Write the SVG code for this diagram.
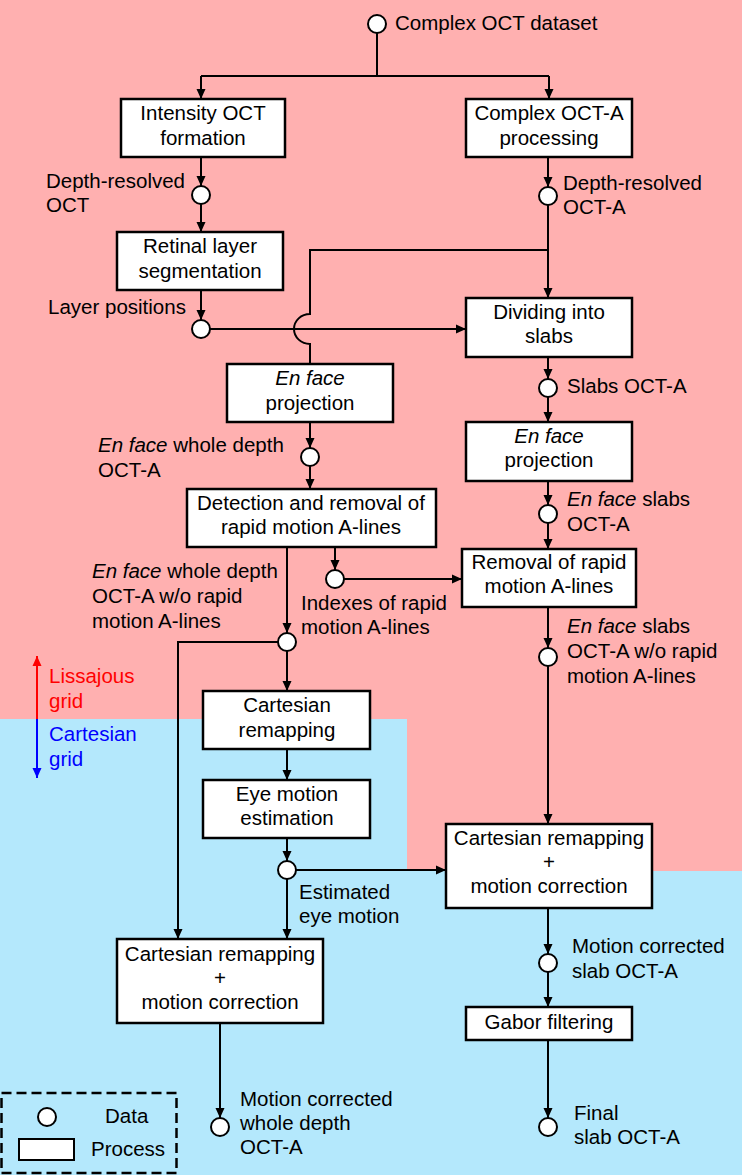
<svg xmlns="http://www.w3.org/2000/svg" width="742" height="1175" viewBox="0 0 742 1175">
<defs>
<marker id="ah" markerUnits="userSpaceOnUse" markerWidth="11" markerHeight="10" refX="10" refY="5" orient="auto">
<path d="M0,0.5 L10,5 L0,9.5 z" fill="#000"/>
</marker>
<marker id="ahr" markerUnits="userSpaceOnUse" markerWidth="11" markerHeight="10" refX="10" refY="5" orient="auto">
<path d="M0,0.5 L10,5 L0,9.5 z" fill="#ff0000"/>
</marker>
<marker id="ahb" markerUnits="userSpaceOnUse" markerWidth="11" markerHeight="10" refX="10" refY="5" orient="auto">
<path d="M0,0.5 L10,5 L0,9.5 z" fill="#0000ff"/>
</marker>
</defs>
<style>
text{font-family:"Liberation Sans",Arial,sans-serif;font-size:20.5px;fill:#000}
.c{text-anchor:middle}
.i{font-style:italic}
.box{fill:#fff;stroke:#000;stroke-width:2.5}
.dat{fill:#fff;stroke:#000;stroke-width:2}
.ln{fill:none;stroke:#000;stroke-width:2}
.arr{fill:none;stroke:#000;stroke-width:2;marker-end:url(#ah)}
</style>
<rect x="0" y="0" width="742" height="1175" fill="#ffb0b0"/>
<path d="M0,719 H407 V871 H742 V1175 H0 Z" fill="#b4e8fc"/>

<g id="connectors">
<path class="ln" d="M377,33 V76 M201,76 H549"/>
<path class="arr" d="M201,76 V99"/>
<path class="arr" d="M549,76 V99"/>
<path class="arr" d="M201,157 V186"/>
<path class="arr" d="M201,204 V232"/>
<path class="arr" d="M201,290 V320"/>
<path class="arr" d="M210,329 H466"/>
<path class="arr" d="M548,157 V187"/>
<path class="arr" d="M548,205 V298"/>
<path class="ln" d="M548,250 H310 V314 A16,15 0 0 0 310,344 V364"/>
<path class="arr" d="M548,357 V379"/>
<path class="arr" d="M548,397 V422"/>
<path class="arr" d="M548,481 V505"/>
<path class="arr" d="M548,523 V549"/>
<path class="arr" d="M548,607 V648"/>
<path class="arr" d="M548,666 V824"/>
<path class="arr" d="M548,908 V954"/>
<path class="arr" d="M548,972 V1007"/>
<path class="arr" d="M548,1040 V1118"/>
<path class="arr" d="M310,422 V448"/>
<path class="arr" d="M310,466 V489"/>
<path class="arr" d="M287,547 V633"/>
<path class="arr" d="M335,547 V570"/>
<path class="arr" d="M344,579 H462"/>
<path class="arr" d="M287,651 V691"/>
<path class="arr" d="M278,642 H178 V939"/>
<path class="arr" d="M287,749 V780"/>
<path class="arr" d="M287,838 V861"/>
<path class="arr" d="M296,870 H446"/>
<path class="arr" d="M287,879 V939"/>
<path class="arr" d="M220,1023 V1118"/>
</g>

<g id="n-dataset"><circle class="dat" cx="377" cy="24" r="9"/><text x="395" y="30">Complex OCT dataset</text></g>
<g id="n-intensity"><rect class="box" x="121" y="99" width="164" height="58"/><text class="c" x="203" y="120">Intensity OCT</text><text class="c" x="203" y="145">formation</text></g>
<g id="n-complex"><rect class="box" x="466" y="99" width="166" height="58"/><text class="c" x="549" y="120">Complex OCT-A</text><text class="c" x="549" y="145">processing</text></g>
<g id="n-depth-oct"><circle class="dat" cx="201" cy="195" r="9"/><text x="46" y="188">Depth-resolved</text><text x="46" y="212">OCT</text></g>
<g id="n-depth-octa"><circle class="dat" cx="548" cy="196" r="9"/><text x="563" y="190">Depth-resolved</text><text x="563" y="214">OCT-A</text></g>
<g id="n-retinal"><rect class="box" x="117" y="232" width="166" height="58"/><text class="c" x="200" y="253">Retinal layer</text><text class="c" x="200" y="278">segmentation</text></g>
<g id="n-layerpos"><circle class="dat" cx="201" cy="329" r="9"/><text x="48" y="314">Layer positions</text></g>
<g id="n-dividing"><rect class="box" x="466" y="298" width="166" height="59"/><text class="c" x="549" y="319">Dividing into</text><text class="c" x="549" y="343">slabs</text></g>
<g id="n-slabs"><circle class="dat" cx="548" cy="388" r="9"/><text x="567" y="393">Slabs OCT-A</text></g>
<g id="n-enface-r"><rect class="box" x="466" y="422" width="166" height="59"/><text class="c i" x="549" y="443">En face</text><text class="c" x="549" y="467">projection</text></g>
<g id="n-enface-slabs"><circle class="dat" cx="548" cy="514" r="9"/><text x="567" y="506"><tspan class="i">En face</tspan> slabs</text><text x="567" y="531">OCT-A</text></g>
<g id="n-removal"><rect class="box" x="462" y="549" width="174" height="58"/><text class="c" x="549" y="569">Removal of rapid</text><text class="c" x="549" y="593">motion A-lines</text></g>
<g id="n-enface-slabs-wo"><circle class="dat" cx="548" cy="657" r="9"/><text x="567" y="633"><tspan class="i">En face</tspan> slabs</text><text x="567" y="658">OCT-A w/o rapid</text><text x="567" y="683">motion A-lines</text></g>
<g id="n-cart-r"><rect class="box" x="446" y="824" width="206" height="84"/><text class="c" x="549" y="845">Cartesian remapping</text><text class="c" x="549" y="869">+</text><text class="c" x="549" y="893">motion correction</text></g>
<g id="n-mc-slab"><circle class="dat" cx="548" cy="963" r="9"/><text x="572" y="953">Motion corrected</text><text x="572" y="978">slab OCT-A</text></g>
<g id="n-gabor"><rect class="box" x="466" y="1007" width="166" height="33"/><text class="c" x="549" y="1029">Gabor filtering</text></g>
<g id="n-final"><circle class="dat" cx="548" cy="1127" r="9"/><text x="574" y="1120">Final</text><text x="574" y="1144">slab OCT-A</text></g>
<g id="n-enface-l"><rect class="box" x="227" y="364" width="166" height="58"/><text class="c i" x="310" y="385">En face</text><text class="c" x="310" y="410">projection</text></g>
<g id="n-enface-whole"><circle class="dat" cx="310" cy="457" r="9"/><text x="98" y="452"><tspan class="i">En face</tspan> whole depth</text><text x="98" y="477">OCT-A</text></g>
<g id="n-detection"><rect class="box" x="187" y="489" width="249" height="58"/><text class="c" x="311" y="510">Detection and removal of</text><text class="c" x="311" y="534">rapid motion A-lines</text></g>
<g id="n-indexes"><circle class="dat" cx="335" cy="579" r="9"/><text x="301" y="610">Indexes of rapid</text><text x="301" y="634">motion A-lines</text></g>
<g id="n-enface-whole-wo"><circle class="dat" cx="287" cy="642" r="9"/><text x="92" y="578"><tspan class="i">En face</tspan> whole depth</text><text x="92" y="603">OCT-A w/o rapid</text><text x="92" y="628">motion A-lines</text></g>
<g id="n-cart-remap"><rect class="box" x="203" y="691" width="167" height="58"/><text class="c" x="287" y="712">Cartesian</text><text class="c" x="287" y="737">remapping</text></g>
<g id="n-eye"><rect class="box" x="203" y="780" width="167" height="58"/><text class="c" x="287" y="801">Eye motion</text><text class="c" x="287" y="825">estimation</text></g>
<g id="n-est-eye"><circle class="dat" cx="287" cy="870" r="9"/><text x="299" y="899">Estimated</text><text x="299" y="923">eye motion</text></g>
<g id="n-cart-l"><rect class="box" x="117" y="939" width="206" height="84"/><text class="c" x="220" y="961">Cartesian remapping</text><text class="c" x="220" y="985">+</text><text class="c" x="220" y="1009">motion correction</text></g>
<g id="n-mc-whole"><circle class="dat" cx="220" cy="1127" r="9"/><text x="240" y="1106">Motion corrected</text><text x="240" y="1130">whole depth</text><text x="240" y="1154">OCT-A</text></g>

<g id="grid-indicator">
<line x1="37" y1="719" x2="37" y2="656" stroke="#ff0000" stroke-width="2" marker-end="url(#ahr)"/>
<line x1="37" y1="719" x2="37" y2="778" stroke="#0000ff" stroke-width="2" marker-end="url(#ahb)"/>
<text x="49" y="683" style="fill:#ff0000">Lissajous</text>
<text x="49" y="708" style="fill:#ff0000">grid</text>
<text x="49" y="741" style="fill:#0000ff">Cartesian</text>
<text x="49" y="766" style="fill:#0000ff">grid</text>
</g>

<g id="legend">
<rect x="1.5" y="1093" width="175" height="80" fill="none" stroke="#000" stroke-width="2.5" stroke-dasharray="10,5"/>
<circle class="dat" cx="47" cy="1117" r="9"/>
<text x="105" y="1123">Data</text>
<rect x="19" y="1139" width="55" height="21" fill="#fff" stroke="#000" stroke-width="2"/>
<text x="91" y="1156">Process</text>
</g>
</svg>
